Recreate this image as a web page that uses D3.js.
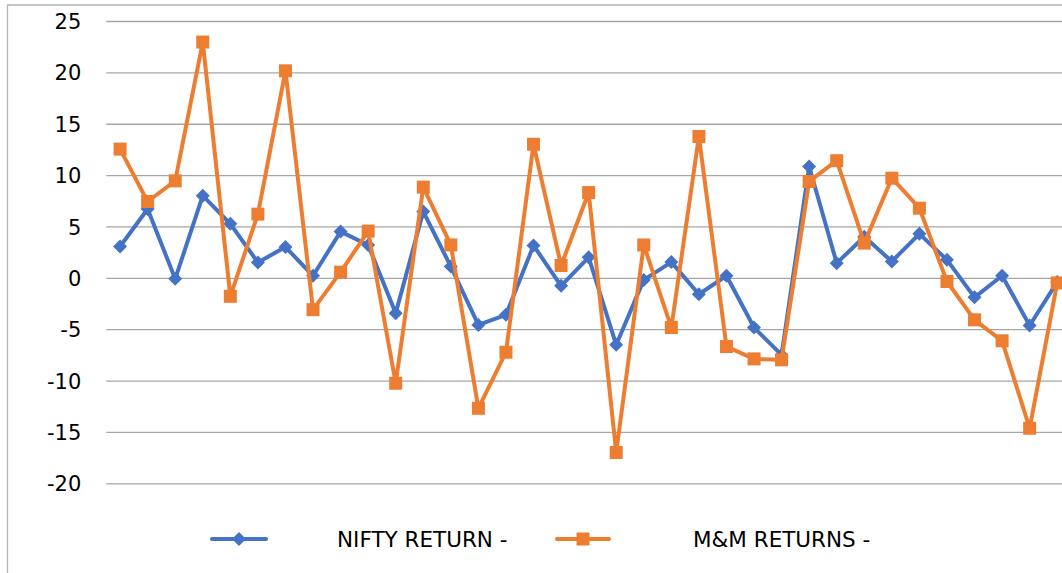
<!DOCTYPE html>
<html><head><meta charset="utf-8">
<script src="https://cdn.jsdelivr.net/npm/d3@7"></script>
<style>
html,body{margin:0;padding:0;background:#fff;overflow:hidden;}
svg{display:block;}
</style></head>
<body>
<svg id="chart" width="1062" height="573"></svg>
<script>
const categories = d3.range(1, 36).map(String);
const niftyReturn = [3.05, 6.7, -0.1, 8.0, 5.26, 1.5, 3.0, 0.2, 4.5, 3.2,
  -3.44, 6.45, 1.1, -4.58, -3.6, 3.15, -0.78, 2.0, -6.52, -0.2,
  1.53, -1.6, 0.2, -4.84, -7.5, 10.84, 1.43, 4.0, 1.6, 4.28,
  1.75, -1.9, 0.2, -4.64, -0.4];
const mmReturns = [12.53, 7.43, 9.44, 22.95, -1.8, 6.2, 20.15, -3.1, 0.55, 4.55,
  -10.26, 8.83, 3.2, -12.7, -7.24, 13.0, 1.2, 8.3, -17.0, 3.2,
  -4.84, 13.76, -6.69, -7.89, -7.98, 9.38, 11.4, 3.38, 9.7, 6.78,
  -0.36, -4.09, -6.13, -14.64, -0.5];
const yTicks = [25, 20, 15, 10, 5, 0, -5, -10, -15, -20];
const seriesNames = ["NIFTY RETURN -", "M&M RETURNS -"];

const svg = d3.select("#chart");
const plotLeft = 106.3, plotRight = 1071;
const x = d3.scaleBand().domain(categories).range([plotLeft, plotRight]);
const y = d3.scaleLinear().domain([-20, 25]).range([483.3, 21]);
const cx = d => x(d) + x.bandwidth() / 2;

// outer border
svg.append("path").attr("d", "M7.5,600 V5 H1100")
  .attr("fill", "none").attr("stroke", "#b4b4b4").attr("stroke-width", 1.3);

// gridlines + y labels
const yAxis = d3.axisLeft(y).tickValues(yTicks).tickSize(-(plotRight - plotLeft)).tickFormat(d => String(d));
const gAxis = svg.append("g").attr("transform", `translate(${plotLeft},0)`).call(yAxis);
gAxis.select(".domain").remove();
gAxis.selectAll(".tick line").attr("stroke", "#a6a6a6").attr("stroke-width", 1.3);
gAxis.selectAll(".tick text").attr("font-family", "DejaVu Sans, sans-serif")
  .attr("font-size", 21).attr("fill", "#000").attr("x", -25).attr("dy", "0.36em");

const blue = "#4472C4", orange = "#ED7D31";
const line = d3.line().x((d, i) => cx(categories[i])).y(d => y(d));

function drawSeries(data, color, marker) {
  svg.append("path").datum(data).attr("d", line)
    .attr("fill", "none").attr("stroke", color).attr("stroke-width", 4).attr("stroke-linejoin", "round");
  const g = svg.append("g");
  data.forEach((v, i) => drawMarker(g, cx(categories[i]), y(v), color, marker));
}
function drawMarker(g, px, py, color, marker) {
  if (marker === "diamond") {
    const r = 7;
    g.append("path").attr("d", `M${px},${py - r}L${px + r},${py}L${px},${py + r}L${px - r},${py}Z`).attr("fill", color);
  } else {
    const s = 13;
    g.append("rect").attr("x", px - s / 2).attr("y", py - s / 2).attr("width", s).attr("height", s).attr("fill", color);
  }
}
drawSeries(niftyReturn, blue, "diamond");
drawSeries(mmReturns, orange, "square");

// legend
const legend = svg.append("g");
const legItems = [
  {name: seriesNames[0], color: blue, marker: "diamond", x0: 212, x1: 266, tx: 337},
  {name: seriesNames[1], color: orange, marker: "square", x0: 557, x1: 609, tx: 693}
];
legItems.forEach(it => {
  legend.append("line").attr("x1", it.x0).attr("x2", it.x1).attr("y1", 539).attr("y2", 539)
    .attr("stroke", it.color).attr("stroke-width", 4).attr("stroke-linecap", "round");
  drawMarker(legend, (it.x0 + it.x1) / 2, 539, it.color, it.marker);
  legend.append("text").attr("x", it.tx).attr("y", 547).text(it.name)
    .attr("font-family", "DejaVu Sans, sans-serif").attr("font-size", 21.5).attr("fill", "#000");
});
</script>
</body></html>
